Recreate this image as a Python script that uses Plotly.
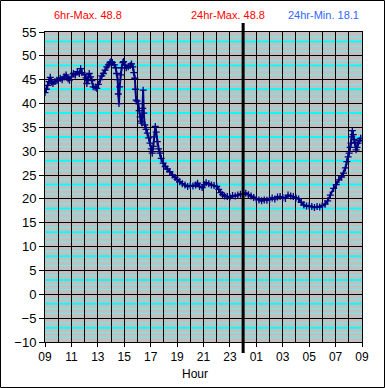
import plotly.graph_objects as go

# hours elapsed since 09:00
HOURS = [0.00, 0.10, 0.20, 0.30, 0.40, 0.50, 0.60, 0.75, 0.90, 1.00, 1.15, 1.30, 1.45, 1.60, 1.75, 1.85,
         2.00, 2.15, 2.30, 2.45, 2.60, 2.70, 2.80, 3.00, 3.10, 3.17, 3.25, 3.35, 3.45, 3.55, 3.65, 3.80,
         3.92, 4.05, 4.17, 4.30, 4.42, 4.55, 4.68, 4.80, 4.92, 5.00, 5.10, 5.25, 5.35, 5.42, 5.50, 5.55,
         5.60, 5.65, 5.72, 5.80, 5.90, 5.95, 6.05, 6.15, 6.30, 6.45, 6.55, 6.65, 6.72, 6.80, 6.85, 6.90,
         6.98, 7.07, 7.13, 7.20, 7.28, 7.33, 7.40, 7.43, 7.48, 7.55, 7.65, 7.75, 7.85, 7.95, 8.05, 8.12,
         8.20, 8.28, 8.35, 8.42, 8.50, 8.60, 8.70, 8.80, 8.95, 9.10, 9.25, 9.45, 9.65, 9.85, 10.00, 10.20,
         10.40, 10.60, 10.80, 11.00, 11.20, 11.40, 11.55, 11.70, 11.90, 12.05, 12.20, 12.40, 12.60, 12.80,
         13.00, 13.15, 13.30, 13.45, 13.60, 13.80, 14.00, 14.20, 14.40, 14.60, 14.80, 15.00, 15.20, 15.40,
         15.60, 15.80, 16.00, 16.20, 16.40, 16.60, 16.80, 17.00, 17.20, 17.40, 17.60, 17.80, 18.00, 18.20,
         18.40, 18.60, 18.80, 19.00, 19.20, 19.40, 19.60, 19.80, 20.00, 20.20, 20.40, 20.60, 20.80, 21.00,
         21.20, 21.40, 21.60, 21.85, 22.05, 22.25, 22.45, 22.60, 22.75, 22.85, 22.95, 23.03, 23.10, 23.17,
         23.22, 23.27, 23.33, 23.40, 23.47, 23.55, 23.62, 23.70, 23.80, 23.90]
TEMPS = [42.3, 43.0, 43.8, 44.6, 45.5, 44.5, 44.2, 44.6, 44.9, 44.8, 45.3, 45.0, 45.6, 46.0, 45.2, 44.9,
         45.6, 46.3, 46.0, 46.7, 46.3, 47.3, 46.5, 46.0, 45.4, 44.2, 45.0, 46.3, 45.6, 44.8, 43.5, 43.4,
         43.2, 44.0, 45.0, 45.8, 46.3, 47.0, 47.7, 48.1, 48.6, 48.8, 48.6, 48.1, 47.5, 46.3, 45.0, 42.0,
         40.0, 43.5, 46.0, 47.5, 48.6, 48.8, 48.0, 47.5, 47.7, 48.0, 48.3, 47.7, 46.5, 45.3, 43.0, 40.7,
         40.5, 40.0, 38.5, 37.2, 36.3, 35.9, 39.0, 42.8, 38.0, 35.5, 34.6, 33.8, 32.8, 31.7, 30.5, 29.6,
         31.0, 33.0, 35.2, 34.0, 32.0, 30.5, 29.6, 28.5, 27.5, 26.8, 26.3, 25.7, 25.0, 24.5, 24.1, 23.6,
         23.2, 22.9, 22.6, 22.8, 22.7, 22.9, 23.3, 22.6, 22.4, 23.0, 23.4, 23.2, 22.9, 22.8,
         22.6, 22.0, 21.3, 20.9, 20.6, 20.5, 20.4, 20.7, 20.6, 20.8, 21.0, 21.0, 21.2, 20.9,
         20.6, 20.3, 20.0, 19.8, 19.6, 19.8, 19.7, 19.9, 20.2, 20.0, 20.4, 20.5, 20.3, 20.1,
         20.8, 20.6, 20.5, 20.2, 20.0, 19.3, 18.7, 18.5, 18.5, 18.4, 18.2, 18.4, 18.3, 18.6,
         18.9, 19.6, 20.8, 22.2, 23.0, 24.0, 24.6, 25.4, 26.5, 27.8, 28.8, 29.6, 30.8, 31.7,
         33.0, 34.3, 33.5, 32.5, 31.8, 30.3, 30.8, 31.7, 32.2, 32.7]

TICK_HOURS = [0, 2, 4, 6, 8, 10, 12, 14, 16, 18, 20, 22, 24]
TICK_LABELS = ["09", "11", "13", "15", "17", "19", "21", "23", "01", "03", "05", "07", "09"]
HOUR_GRID = list(range(25))
MIDNIGHT = 15
Y_MIN, Y_MAX = -10, 55
STATS = ["6hr-Max. 48.8", "24hr-Max. 48.8", "24hr-Min. 18.1"]

W, H = 385, 388
ML, MR, MT, MB = 45, 23, 32, 46
PW, PH = W - ML - MR, H - MT - MB

def px_to_paper_x(px):
    return (px - ML) / PW

def px_to_paper_y(py):
    return (H - MB - py) / PH

FONT = "Liberation Sans, Arial, sans-serif"

fig = go.Figure()
fig.add_trace(go.Scatter(
    x=HOURS, y=TEMPS, mode="lines+markers",
    line=dict(color="#000080", width=2),
    marker=dict(symbol="cross-thin", size=5, line=dict(color="#000080", width=1.3)),
    showlegend=False, hoverinfo="x+y"))

shapes = []
# cyan unit lines, drawn beneath the black grid
for v in range(Y_MIN + 1, Y_MAX):
    if v % 5 == 0:
        continue
    thick = (v - 3) % 5 == 0
    shapes.append(dict(type="line", xref="paper", yref="y", x0=0, x1=1, y0=v, y1=v,
                       line=dict(color="#00FFFF" if thick else "#70ECEC", width=2 if thick else 1),
                       layer="below"))
# midnight marker
shapes.append(dict(type="line", xref="x", yref="paper", x0=MIDNIGHT, x1=MIDNIGHT,
                   y0=px_to_paper_y(353), y1=px_to_paper_y(23),
                   line=dict(color="black", width=3), layer="above"))
# outer frame
shapes.append(dict(type="rect", xref="paper", yref="paper",
                   x0=px_to_paper_x(0.5), x1=px_to_paper_x(W - 0.5),
                   y0=px_to_paper_y(H - 0.5), y1=px_to_paper_y(0.5),
                   line=dict(color="black", width=1), fillcolor="rgba(0,0,0,0)", layer="above"))

def label(text, px, py, color, size):
    return dict(text=text, x=px_to_paper_x(px), y=px_to_paper_y(py), xref="paper", yref="paper",
                xanchor="center", yanchor="middle", showarrow=False,
                font=dict(color=color, size=size, family=FONT))

annotations = [
    label(STATS[0], 88, 15, "#FF0000", 11),
    label(STATS[1], 228, 15, "#FF0000", 11),
    label(STATS[2], 323, 15, "#3366FF", 11),
    label("Hour", 195, 374, "black", 12),
]

fig.update_layout(
    width=W, height=H,
    margin=dict(l=ML, r=MR, t=MT, b=MB, pad=0),
    paper_bgcolor="white", plot_bgcolor="#C0C0C0",
    font=dict(family=FONT, color="black", size=12),
    shapes=shapes, annotations=annotations,
    xaxis=dict(range=[0, 24], tickmode="array", tickvals=TICK_HOURS, ticktext=TICK_LABELS,
               showgrid=True, gridcolor="black", gridwidth=1,
               minor=dict(tickmode="array", tickvals=HOUR_GRID, showgrid=True, gridcolor="black", gridwidth=1),
               ticks="outside", ticklen=4, tickcolor="black", tickfont=dict(size=12),
               showline=True, linecolor="black", linewidth=1, mirror=True, zeroline=False,
               fixedrange=True),
    yaxis=dict(range=[Y_MIN, Y_MAX], tickmode="linear", tick0=0, dtick=5,
               showgrid=True, gridcolor="black", gridwidth=1,
               ticks="outside", ticklen=5, tickcolor="black", tickfont=dict(size=13),
               showline=True, linecolor="black", linewidth=1, mirror=True, zeroline=False,
               fixedrange=True),
)

fig.write_html("out.html", config={"displayModeBar": False},
               post_script="document.body.style.margin='0px';")
